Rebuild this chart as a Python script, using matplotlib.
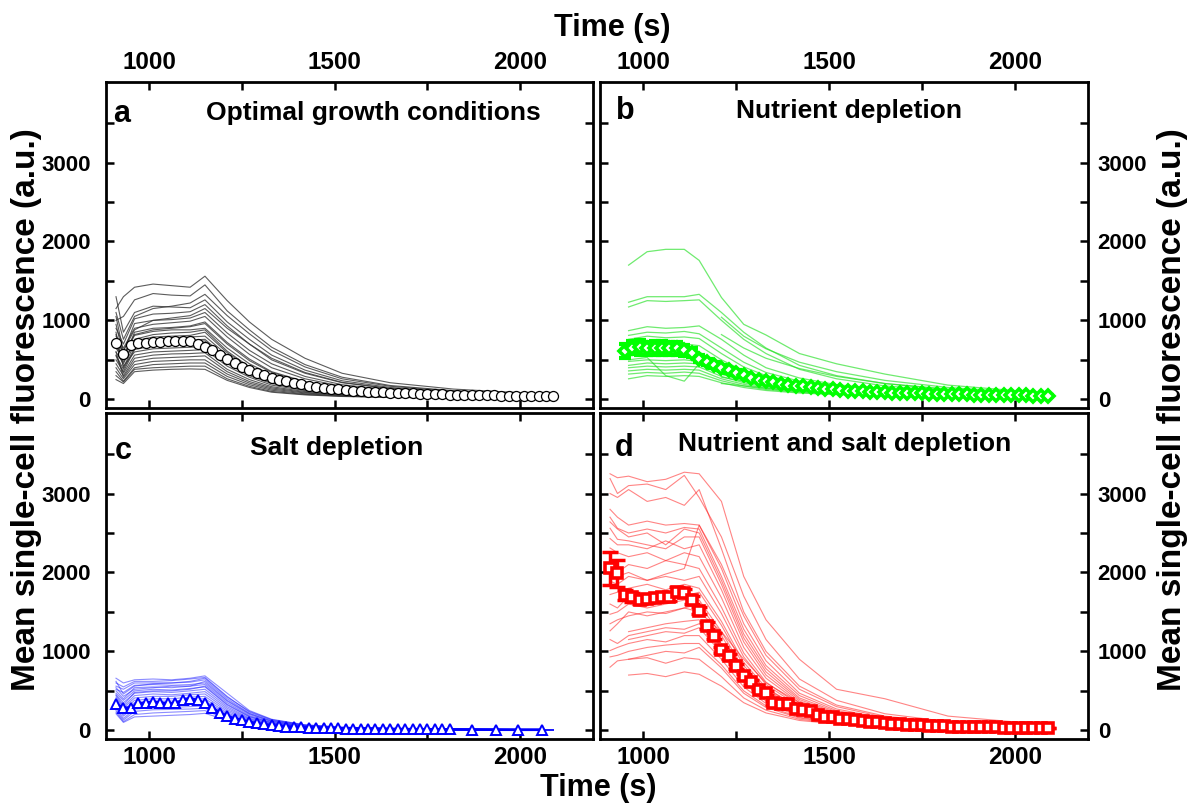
import numpy as np
import matplotlib
matplotlib.use("Agg")
import matplotlib.pyplot as plt
from matplotlib.ticker import FixedLocator

plt.rcParams['font.family'] = ['Liberation Sans', 'DejaVu Sans']
plt.rcParams['font.weight'] = 'bold'

nan = np.nan

# sampling times of the single-cell traces (s)
trace_t = [910, 930, 960, 1010, 1060, 1110, 1150, 1210, 1270, 1330, 1420, 1520, 1650, 1820, 2090]

# single-cell traces, a: optimal growth
traces_a = [
    [1150, 1300, 1420, 1460, 1440, 1420, 1560, 1250, 980, 760, 520, 330, 210, 130, 60],
    [1000, 1050, 1260, 1340, 1320, 1310, 1450, 1120, 880, 660, 440, 280, 175, 110, 55],
    [1300, 850, 1100, 1180, 1170, 1160, 1260, 980, 760, 560, 370, 235, 150, 95, 50],
    [900, 700, 1020, 1080, 1090, 1110, 1200, 930, 700, 500, 330, 210, 135, 85, 45],
    [1050, 600, 960, 1000, 1010, 1030, 1100, 840, 620, 450, 290, 185, 120, 75, 42],
    [800, 650, 900, 950, 970, 990, 1050, 790, 570, 400, 260, 165, 105, 68, 38],
    [700, 500, 850, 900, 910, 930, 980, 720, 510, 350, 225, 145, 92, 60, 35],
    [950, 550, 810, 860, 880, 880, 900, 650, 450, 310, 195, 125, 80, 52, 30],
    [600, 450, 760, 820, 840, 850, 880, 610, 410, 280, 175, 112, 72, 47, 28],
    [850, 400, 700, 760, 780, 790, 800, 560, 380, 260, 160, 100, 65, 43, 26],
    [650, 500, 690, 720, 740, 750, 760, 520, 350, 240, 148, 93, 60, 40, 25],
    [500, 350, 630, 680, 700, 700, 720, 480, 320, 210, 130, 82, 53, 36, 22],
    [750, 420, 600, 640, 650, 660, 670, 450, 300, 200, 120, 76, 50, 34, 20],
    [550, 330, 560, 600, 610, 620, 630, 420, 280, 180, 110, 70, 46, 31, 19],
    [450, 300, 520, 560, 575, 580, 590, 380, 250, 160, 98, 62, 41, 28, 18],
    [600, 280, 480, 520, 530, 540, 550, 350, 225, 145, 88, 56, 37, 25, 16],
    [400, 260, 440, 480, 490, 500, 500, 320, 205, 130, 80, 51, 34, 23, 15],
    [350, 230, 400, 440, 450, 460, 460, 290, 185, 115, 70, 45, 30, 21, 14],
    [300, 220, 380, 400, 410, 420, 420, 260, 165, 100, 62, 40, 27, 19, 13],
    [250, 200, 350, 370, 380, 385, 380, 240, 150, 90, 56, 36, 24, 17, 12],
    [700, 620, 880, 1000, 1030, 1060, 1150, 900, 700, 520, 340, 215, 138, 88, 48],
    [1100, 760, 1050, 1150, 1180, 1220, 1330, 1060, 830, 620, 410, 260, 165, 103, 52],
    [820, 560, 820, 880, 900, 920, 960, 700, 490, 340, 215, 138, 88, 57, 32],
    [680, 470, 740, 790, 800, 810, 850, 590, 400, 270, 168, 107, 70, 45, 27],
    [560, 380, 650, 700, 720, 730, 740, 500, 335, 225, 140, 88, 57, 38, 23],
]

# b: nutrient depletion
traces_b = [
    [nan, nan, 1700, 1870, 1900, 1900, 1760, 1290, 950, 815, 580, 450, 320, 180, 75],
    [nan, nan, 1230, 1300, 1300, 1300, 1330, 1100, 850, 650, 430, 300, 200, 120, 55],
    [nan, nan, 1170, 1250, 1240, 1250, 1260, 1000, 760, 580, 380, 260, 170, 105, 50],
    [nan, nan, 870, 920, 900, 910, 930, 760, 560, 400, 270, 185, 125, 85, 45],
    [nan, nan, 810, 850, 840, 860, 830, 650, 470, 340, 230, 160, 110, 75, 42],
    [nan, nan, 760, 800, 780, 790, 770, 580, 410, 300, 205, 145, 100, 70, 40],
    [nan, nan, 650, 700, 690, 700, 680, 500, 360, 265, 185, 130, 92, 64, 38],
    [nan, nan, 600, 640, 620, 630, 600, 440, 320, 235, 165, 118, 85, 60, 36],
    [nan, nan, 560, 590, 580, 560, 570, 410, 290, 215, 150, 108, 78, 55, 34],
    [nan, nan, 500, 530, 300, 230, 450, 330, 250, 190, 135, 98, 70, 50, 32],
    [nan, nan, 480, 500, 490, 500, 480, 350, 255, 190, 135, 97, 70, 50, 31],
    [nan, nan, 430, 460, 450, 460, 450, 320, 230, 170, 122, 88, 64, 46, 30],
    [nan, nan, 400, 420, 410, 420, 410, 290, 210, 155, 110, 80, 58, 42, 28],
    [nan, nan, 360, 380, 370, 380, 370, 260, 190, 140, 100, 73, 53, 39, 26],
    [nan, nan, 320, 340, 330, 345, 330, 235, 170, 125, 90, 66, 48, 36, 24],
    [nan, nan, 260, 300, 290, 300, 290, 210, 150, 112, 80, 60, 44, 33, 22],
    [nan, nan, nan, nan, nan, nan, nan, 1040, 800, 640, 470, 350, 240, 150, 65],
    [nan, nan, nan, nan, nan, nan, nan, 820, 650, 520, 390, 290, 200, 130, 58],
    [nan, nan, nan, nan, nan, nan, nan, 280, 230, 190, 140, 105, 78, 55, 35],
    [nan, nan, nan, nan, nan, nan, nan, 200, 170, 140, 105, 80, 60, 45, 30],
]

# c: salt depletion
traces_c = [
    [660, 600, 640, 650, 640, 660, 690, 470, 250, 140, 70, 40, 25, 15, 8],
    [600, 550, 620, 620, 630, 650, 670, 430, 230, 130, 65, 37, 23, 14, 8],
    [560, 520, 600, 600, 600, 610, 640, 400, 215, 120, 60, 35, 22, 13, 8],
    [520, 480, 570, 580, 570, 580, 600, 370, 200, 110, 56, 33, 21, 13, 7],
    [500, 400, 540, 550, 540, 560, 580, 350, 185, 100, 52, 31, 20, 12, 7],
    [470, 380, 500, 520, 510, 530, 550, 320, 170, 92, 48, 29, 19, 12, 7],
    [450, 350, 470, 490, 480, 500, 520, 300, 155, 85, 45, 27, 18, 11, 6],
    [420, 300, 440, 460, 450, 470, 490, 280, 145, 80, 42, 25, 17, 11, 6],
    [400, 280, 410, 430, 430, 450, 460, 260, 135, 74, 39, 24, 16, 10, 6],
    [380, 250, 380, 400, 400, 420, 430, 240, 125, 68, 36, 22, 15, 10, 6],
    [350, 220, 350, 370, 370, 390, 400, 220, 115, 63, 34, 21, 14, 9, 5],
    [330, 200, 320, 340, 345, 360, 370, 205, 105, 58, 31, 19, 13, 9, 5],
    [300, 180, 300, 310, 320, 330, 340, 190, 97, 53, 29, 18, 12, 8, 5],
    [280, 150, 270, 285, 290, 300, 310, 175, 90, 49, 27, 17, 11, 8, 5],
    [250, 130, 240, 260, 265, 270, 280, 160, 82, 45, 25, 16, 11, 7, 4],
    [230, 110, 200, 220, 230, 240, 250, 145, 75, 41, 23, 15, 10, 7, 4],
    [210, 100, 170, 180, 190, 200, 215, 130, 68, 37, 21, 14, 9, 6, 4],
    [620, 460, 560, 590, 600, 620, 660, 420, 240, 135, 68, 38, 24, 14, 8],
    [540, 430, 520, 540, 560, 560, 620, 380, 210, 115, 58, 34, 21, 13, 7],
    [440, 320, 480, 500, 500, 520, 560, 330, 175, 95, 50, 30, 19, 12, 7],
]

# d: nutrient and salt depletion
traces_d = [
    [3250, 3200, 3220, 3150, 3180, 3270, 3250, 2900, 1950, 1400, 900, 520, 400, 180, 70],
    [3190, 3000, 3100, 3120, 3050, 3230, 2950, 2450, 1700, 1150, 650, 380, 210, 110, 50],
    [3000, 2950, 3050, 2900, 2950, 2850, 3050, 2300, 1500, 1000, 560, 320, 180, 95, 45],
    [2800, 2700, 2600, 2650, 2600, 2620, 2600, 2050, 1350, 880, 470, 270, 150, 85, 40],
    [2700, 2560, 2500, 2550, 2500, 2570, 2550, 1950, 1280, 820, 440, 250, 140, 80, 38],
    [2640, 2550, 2450, 2500, 2350, 2550, 2500, 1900, 1220, 780, 410, 235, 130, 75, 36],
    [2560, 2420, 2400, 2350, 2300, 2450, 2450, 1850, 1170, 740, 390, 220, 122, 72, 35],
    [2430, 2350, 2350, 2300, 2400, 2300, 2350, 1780, 1120, 700, 370, 210, 115, 68, 34],
    [2310, 2250, 2200, 2250, 2150, 2250, 2200, 1680, 1050, 660, 350, 200, 110, 65, 33],
    [2060, 2000, 2100, 2050, 2150, 2100, 2050, 1560, 980, 610, 320, 185, 104, 62, 32],
    [1890, 1850, 1950, 1900, 1950, 1900, 1950, 1480, 930, 580, 300, 175, 98, 60, 31],
    [1720, 1750, 1800, 1850, 1780, 1850, 1800, 1380, 860, 540, 280, 165, 92, 57, 30],
    [1600, 1550, 1700, 1650, 1720, 1700, 1750, 1330, 820, 510, 265, 155, 88, 55, 29],
    [1470, 1500, 1600, 1550, 1600, 1650, 1650, 1250, 770, 480, 250, 148, 84, 53, 28],
    [1260, 1350, 1500, 1450, 1500, 1550, 1600, 1200, 740, 460, 240, 140, 80, 51, 27],
    [nan, nan, 1250, 1300, 1350, 1380, 1400, 1060, 650, 400, 210, 125, 74, 48, 26],
    [nan, nan, 1150, 1200, 1250, 1230, 1300, 980, 600, 370, 195, 118, 69, 45, 25],
    [1010, 1050, 1100, 1150, 1120, 1200, 1200, 900, 550, 340, 180, 110, 65, 43, 24],
    [930, 950, 1000, 1050, 1080, 1100, 1100, 830, 500, 310, 165, 100, 60, 41, 23],
    [800, 880, 900, 950, 1000, 980, 1050, 790, 470, 290, 155, 95, 57, 39, 22],
    [nan, nan, 900, 920, 850, 920, 900, 680, 410, 255, 140, 88, 54, 37, 21],
    [nan, nan, 700, 720, 680, 740, 710, 560, 350, 220, 125, 80, 50, 35, 20],
    [2050, 1950, 2000, 1900, 1980, 2050, 2600, 2100, 1450, 950, 520, 300, 165, 90, 42],
    [1350, 1400, 1450, 1500, 1480, 1550, 1500, 1250, 900, 600, 350, 200, 115, 65, 30],
    [1150, 1100, 1200, 1250, 1300, 1280, 1350, 1100, 780, 520, 300, 175, 100, 60, 28],
]

# population means, one value every 20 s from the start time
mean_a_start = 910
mean_a = [715, 572, 686, 708, 715, 724, 728, 737, 737, 745,
          745, 700, 657, 623, 560, 505, 455, 410, 370, 335,
          305, 275, 250, 226, 207, 188, 170, 157, 145, 135,
          125, 117, 110, 104, 98, 93, 88, 84, 80, 77,
          74, 71, 68, 66, 63, 61, 59, 57, 55, 53,
          51, 50, 48, 47, 45, 44, 43, 42, 41, 40]

mean_b_start = 950
mean_b = [610, 655, 657, 645, 648, 648, 645, 647, 623, 590,
          517, 474, 432, 398, 369, 339, 305, 275, 250, 233,
          216, 199, 186, 174, 165, 157, 144, 136, 127, 115,
          110, 105, 100, 96, 92, 88, 85, 82, 79, 76,
          74, 72, 70, 68, 66, 64, 62, 60, 58, 57,
          55, 54, 52, 51, 50, 48, 47, 46]
err_b = [90, 85, 90, 85, 85, 85, 80, 80, 70, 55,
         45, 40, 35, 32, 30, 28, 26, 24, 22, 21,
         20, 19, 18, 17, 16, 15, 15, 14, 14, 13,
         13, 12, 12, 12, 11, 11, 11, 10, 10, 10,
         10, 9, 9, 9, 9, 8, 8, 8, 8, 8,
         7, 7, 7, 7, 7, 7, 6, 6]

mean_c_start = 910
mean_c = [328, 286, 286, 340, 349, 362, 349, 340, 340, 383,
          403, 383, 340, 286, 223, 181, 147, 130, 105, 88,
          76, 63, 50, 45, 42, 38, 34, 32, 30, 27,
          24, 22, 21, 20, 19, 18, 17, 16, 15, 14,
          14, 13, 13, 12, 12, 11]
# last few salt-depletion means are sparser
tail_c_t = [1870, 1935, 1995, 2060]
tail_c = [10, 9, 8, 8]

mean_d_start = 910
mean_d = [2052, 1989, 1715, 1685, 1652, 1660, 1681, 1694, 1694, 1757,
          1736, 1652, 1513, 1324, 1198, 1021, 937, 811, 685, 609,
          517, 475, 349, 337, 328, 274, 256, 243, 189, 173,
          173, 148, 140, 130, 120, 110, 100, 92, 85, 78,
          72, 67, 62, 58, 54, 51, 48, 45, 43, 41,
          39, 37, 36, 35, 34, 33, 32, 31, 30, 30]
err_d = [210, 170, 60, 55, 50, 50, 50, 50, 50, 55,
         50, 50, 45, 45, 40, 40, 35, 35, 30, 30,
         25, 25, 22, 22, 20, 20, 18, 18, 16, 16,
         15, 15, 14, 14, 13, 13, 12, 12, 11, 11,
         10, 10, 10, 9, 9, 9, 8, 8, 8, 8,
         7, 7, 7, 7, 6, 6, 6, 6, 5, 5]

titles = ["Optimal growth conditions", "Nutrient depletion",
          "Salt depletion", "Nutrient and salt depletion"]
letters = ["a", "b", "c", "d"]
ylabel = "Mean single-cell fluorescence (a.u.)"


def times(start, vals):
    return start + 20 * np.arange(len(vals))


fig = plt.figure(figsize=(11.93, 8.07), dpi=100)

W = 1193.0
H = 807.0
def box(l, t, r, b):
    return [l / W, 1 - b / H, (r - l) / W, (b - t) / H]

ax_a = fig.add_axes(box(106, 82, 593, 408))
ax_b = fig.add_axes(box(600, 82, 1088, 408))
ax_c = fig.add_axes(box(106, 413, 593, 739))
ax_d = fig.add_axes(box(600, 413, 1088, 739))
axes = [ax_a, ax_b, ax_c, ax_d]

# traces
for row in traces_a:
    ax_a.plot(trace_t, row, color='0.2', lw=0.8, alpha=0.8, zorder=2)
for row in traces_b:
    ax_b.plot(trace_t, row, color='#22e022', lw=0.9, alpha=0.65, zorder=2)
for row in traces_c:
    ax_c.plot(trace_t, row, color='#1a1aff', lw=0.8, alpha=0.5, zorder=2)
for row in traces_d:
    ax_d.plot(trace_t, row, color='#ff2020', lw=0.8, alpha=0.55, zorder=2)

# means
ax_a.plot(times(mean_a_start, mean_a), mean_a, 'o', ms=7.2, mfc='white',
          mec='black', mew=0.9, zorder=5)

tb = times(mean_b_start, mean_b)
ax_b.errorbar(tb, mean_b, yerr=err_b, fmt='none', ecolor='#00ff00',
              elinewidth=3, capsize=4.5, capthick=3, zorder=4)
ax_b.plot(tb, mean_b, 'D', ms=6.2, mfc='white', mec='#00ff00', mew=2.6, zorder=5)

tc = np.concatenate([times(mean_c_start, mean_c), tail_c_t])
vc = list(mean_c) + list(tail_c)
ax_c.plot(tc, vc, '-', color='#0000ff', lw=2, zorder=4)
ax_c.plot(tc, vc, '^', ms=7.5, mfc='white', mec='#0000ff', mew=1.4, zorder=5)

td = times(mean_d_start, mean_d)
ax_d.errorbar(td, mean_d, yerr=err_d, fmt='none', ecolor='#ff0000',
              elinewidth=2.5, capsize=6, capthick=2.5, zorder=4)
ax_d.plot(td, mean_d, 's', ms=7.6, mfc='white', mec='#ff0000', mew=2.6, zorder=5)

# frames and ticks
for i, ax in enumerate(axes):
    ax.set_xlim(883, 2197)
    ax.set_ylim(-110, 4020)
    ax.xaxis.set_major_locator(FixedLocator([1000, 1500, 2000]))
    ax.xaxis.set_minor_locator(FixedLocator([1250, 1750]))
    ax.yaxis.set_major_locator(FixedLocator([0, 1000, 2000, 3000]))
    ax.yaxis.set_minor_locator(FixedLocator([500, 1500, 2500, 3500]))
    for sp in ax.spines.values():
        sp.set_linewidth(2)
    left = i in (0, 2)
    top = i in (0, 1)
    ax.tick_params(which='both', direction='in', length=6, width=1.8,
                   top=True, bottom=True, left=True, right=True,
                   labeltop=top, labelbottom=not top,
                   labelleft=left, labelright=not left)
    ax.tick_params(axis='x', labelsize=17.5, pad=6 if top else 5)
    ax.tick_params(axis='y', labelsize=16, pad=11 if left else 7)
    for lab in ax.get_xticklabels() + ax.get_yticklabels():
        lab.set_fontweight('bold')

# panel letters and titles
letter_pos = [(0.033, 0.902), (0.051, 0.912), (0.035, 0.884), (0.049, 0.893)]
title_pos = [(0.548, 0.906), (0.51, 0.912), (0.474, 0.894), (0.502, 0.905)]
for ax, let, lp, tt, tp in zip(axes, letters, letter_pos, titles, title_pos):
    ax.text(lp[0], lp[1], let, transform=ax.transAxes, ha='center', va='center',
            fontsize=22, fontweight='bold')
    ax.text(tp[0], tp[1], tt, transform=ax.transAxes, ha='center', va='center',
            fontsize=19, fontweight='bold')

fig.text(612 / W, 1 - 28 / H, "Time (s)", ha='center', va='center',
         fontsize=22, fontweight='bold')
fig.text(598 / W, 1 - 788 / H, "Time (s)", ha='center', va='center',
         fontsize=22, fontweight='bold')
fig.text(27 / W, 1 - 410 / H, ylabel, rotation=90, ha='center', va='center',
         fontsize=24, fontweight='bold')
fig.text(1172 / W, 1 - 410 / H, ylabel, rotation=90, ha='center', va='center',
         fontsize=24, fontweight='bold')

fig.savefig("out.png", dpi=100, facecolor='white')
